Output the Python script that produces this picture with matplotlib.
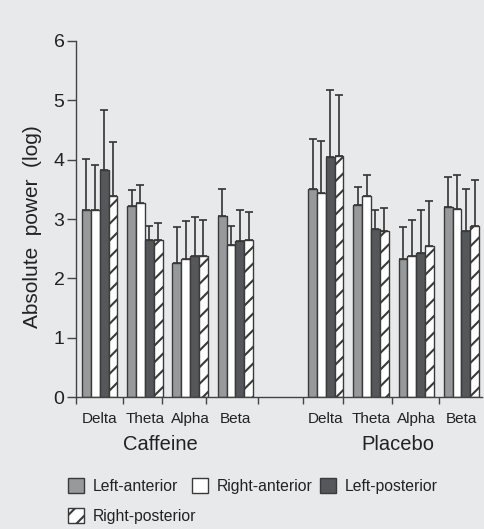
import numpy as np
import matplotlib
matplotlib.use('Agg')
import matplotlib.pyplot as plt
from matplotlib import transforms

plt.rcParams['font.family'] = ['Liberation Sans', 'DejaVu Sans']
plt.rcParams['hatch.linewidth'] = 1.5
plt.rcParams['hatch.color'] = '#111111'

BG = '#e8e9eb'
EDGE = '#3a3a3a'

conditions = ['Caffeine', 'Placebo']
bands = ['Delta', 'Theta', 'Alpha', 'Beta']
regions = ['Left-anterior', 'Right-anterior', 'Left-posterior', 'Right-posterior']

# caffeine bands then placebo bands
left_anterior = [3.15, 3.22, 2.26, 3.05, 3.50, 3.24, 2.32, 3.21]
left_anterior_err = [0.86, 0.27, 0.60, 0.46, 0.85, 0.30, 0.55, 0.49]
right_anterior = [3.15, 3.27, 2.33, 2.56, 3.43, 3.39, 2.38, 3.17]
right_anterior_err = [0.76, 0.31, 0.63, 0.33, 0.89, 0.36, 0.60, 0.58]
left_posterior = [3.82, 2.65, 2.37, 2.63, 4.04, 2.83, 2.43, 2.80]
left_posterior_err = [1.02, 0.24, 0.67, 0.52, 1.13, 0.32, 0.73, 0.70]
right_posterior = [3.39, 2.65, 2.37, 2.64, 4.06, 2.79, 2.55, 2.89]
right_posterior_err = [0.91, 0.28, 0.61, 0.48, 1.03, 0.40, 0.76, 0.76]

values = [left_anterior, right_anterior, left_posterior, right_posterior]
errors = [left_anterior_err, right_anterior_err, left_posterior_err, right_posterior_err]
colors = ['#98999b', 'white', '#56575a', 'white']
hatches = [None, None, None, '//']

group_x = np.array([0, 1, 2, 3, 5, 6, 7, 8], dtype=float)
separators = [-0.535, 0.52, 1.37, 2.35, 3.51, 4.50, 5.39, 6.46, 7.51]
width = 0.195

# legend entry anchors in pixels (left edge of swatch, row centre)
legend_px = [(68, 486), (192, 486), (320, 486), (68, 516)]

W, H = 485, 529
fig = plt.figure(figsize=(W / 100, H / 100), dpi=100, facecolor=BG)
ax = fig.add_axes([0.1557, 0.2495, 0.8375, 0.673], facecolor=BG)

bars = []
for i in range(4):
    xs = group_x + (i - 1.5) * width
    b = ax.bar(xs, values[i], width, color=colors[i], edgecolor=EDGE, linewidth=1.0,
               hatch=hatches[i], label=regions[i], zorder=2)
    bars.append(b)
    ax.errorbar(xs, values[i], yerr=[np.zeros(8), errors[i]], fmt='none',
                ecolor='#333333', elinewidth=1.2, capsize=3, capthick=1.2, zorder=1)

ax.set_xlim(-0.535, 8.45)
ax.set_ylim(0, 6)
ax.set_yticks(range(7))
ax.tick_params(axis='y', labelsize=14, length=6.5, width=1, color='#444444',
               labelcolor='#222222', pad=1.5)

ax.set_xticks(separators)
ax.set_xticklabels([])
ax.tick_params(axis='x', which='major', length=5, width=1, color='#444444')
ax.set_xticks(group_x, minor=True)
ax.set_xticklabels(bands * 2, minor=True)
ax.tick_params(axis='x', which='minor', length=0, labelsize=11, labelcolor='#222222', pad=11)

for s in ['top', 'right']:
    ax.spines[s].set_visible(False)
for s in ['left', 'bottom']:
    ax.spines[s].set_color('#444444')
    ax.spines[s].set_linewidth(1.0)

ax.set_ylabel('Absolute  power  (log)', fontsize=15, color='#222222')
ax.yaxis.set_label_coords(-0.083, 0.48)

trans = transforms.blended_transform_factory(ax.transData, ax.transAxes)
ax.text(1.35, -0.133, conditions[0], transform=trans, ha='center', va='center',
        fontsize=14.5, color='#222222')
ax.text(6.6, -0.133, conditions[1], transform=trans, ha='center', va='center',
        fontsize=14.5, color='#222222')

for b, name, (px, py) in zip(bars, regions, legend_px):
    fig.legend([b], [name], loc='center left', bbox_to_anchor=(px / W, 1 - py / H),
               frameon=False, fontsize=11.3, handlelength=1.05, handleheight=1.05,
               handletextpad=0.5, labelcolor='#222222', borderaxespad=0, borderpad=0)

fig.savefig('out.png', dpi=100, facecolor=BG)
